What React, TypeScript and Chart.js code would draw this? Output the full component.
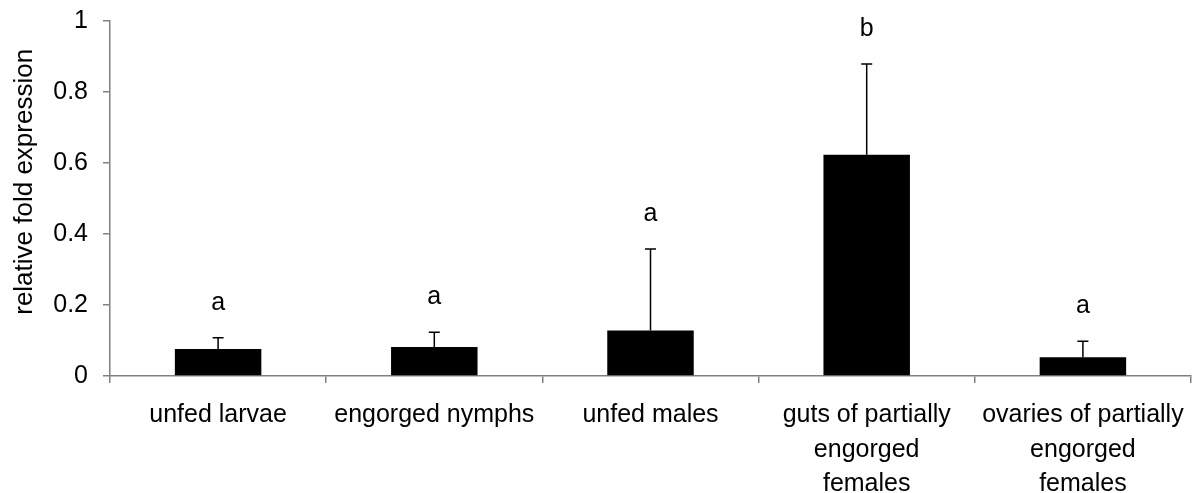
import React, { useEffect, useRef } from "react";
import { Chart, registerables } from "chart.js";

Chart.register(...registerables);

const categories: string[][] = [
  ["unfed larvae"],
  ["engorged nymphs"],
  ["unfed males"],
  ["guts of partially", "engorged", "females"],
  ["ovaries of partially", "engorged", "females"],
];
const means: number[] = [0.076, 0.082, 0.128, 0.623, 0.053];
const errors: number[] = [0.032, 0.041, 0.23, 0.256, 0.045];
const letters: string[] = ["a", "a", "a", "b", "a"];
const yTicks: number[] = [0, 0.2, 0.4, 0.6, 0.8, 1];
const yTitle = "relative fold expression";

const FONT = "'Liberation Sans', Arial, sans-serif";
const AXIS_GRAY = "#808080";

const errorBarPlugin = {
  id: "errorBars",
  afterDatasetsDraw(chart: any) {
    const meta = chart.getDatasetMeta(0);
    const y = chart.scales.y;
    const ctx = chart.ctx;
    ctx.save();
    ctx.strokeStyle = "#000";
    ctx.lineWidth = 1.5;
    ctx.fillStyle = "#000";
    ctx.font = `25px ${FONT}`;
    ctx.textAlign = "center";
    ctx.textBaseline = "alphabetic";
    meta.data.forEach((bar: any, i: number) => {
      const x = bar.x;
      const yTop = y.getPixelForValue(means[i]);
      const yErr = y.getPixelForValue(means[i] + errors[i]);
      ctx.beginPath();
      ctx.moveTo(x, yTop);
      ctx.lineTo(x, yErr);
      ctx.moveTo(x - 5.5, yErr);
      ctx.lineTo(x + 5.5, yErr);
      ctx.stroke();
      ctx.fillText(letters[i], x, yErr - 28);
    });
    ctx.restore();
  },
};

const yTitlePlugin = {
  id: "yTitle",
  afterDraw(chart: any) {
    const y = chart.scales.y;
    const ctx = chart.ctx;
    const cy = y.getPixelForValue(0.547);
    ctx.save();
    ctx.translate(25, cy);
    ctx.rotate(-Math.PI / 2);
    ctx.fillStyle = "#000";
    ctx.font = `26px ${FONT}`;
    ctx.textAlign = "center";
    ctx.textBaseline = "middle";
    ctx.fillText(yTitle, 0, 0);
    ctx.restore();
  },
};

export default function App() {
  const ref = useRef<HTMLCanvasElement | null>(null);
  useEffect(() => {
    if (!ref.current) return;
    const chart = new Chart(ref.current, {
      type: "bar",
      data: {
        labels: categories,
        datasets: [
          {
            data: means,
            backgroundColor: "#000",
            borderWidth: 0,
            barPercentage: 0.4,
            categoryPercentage: 1,
          },
        ],
      },
      options: {
        animation: false,
        responsive: true,
        maintainAspectRatio: false,
        layout: { padding: { top: 21, right: 7, bottom: 0, left: 0 } },
        plugins: {
          legend: { display: false },
          tooltip: { enabled: false },
        },
        scales: {
          x: {
            afterFit: (s: any) => {
              s.height = 117;
              s.paddingLeft = 0;
              s.paddingRight = 0;
            },
            grid: {
              offset: true,
              drawOnChartArea: false,
              drawTicks: true,
              tickLength: 7,
              color: AXIS_GRAY,
              lineWidth: 1.5,
            },
            border: { display: true, color: AXIS_GRAY, width: 1.5 },
            ticks: {
              color: "#000",
              font: { family: FONT, size: 25, lineHeight: 1.38 },
              padding: 15,
              maxRotation: 0,
              minRotation: 0,
              autoSkip: false,
            },
          },
          y: {
            min: 0,
            max: 1,
            afterFit: (s: any) => {
              s.width = 110;
              s.paddingTop = 0;
              s.paddingBottom = 0;
            },
            afterBuildTicks: (s: any) => {
              s.ticks = yTicks.map((v) => ({ value: v }));
            },
            grid: {
              drawOnChartArea: false,
              drawTicks: true,
              tickLength: 7,
              color: AXIS_GRAY,
              lineWidth: 1.5,
            },
            border: { display: true, color: AXIS_GRAY, width: 1.5 },
            ticks: {
              color: "#000",
              font: { family: FONT, size: 25 },
              padding: 15,
              callback: (v: any) => String(parseFloat(Number(v).toFixed(1))),
            },
          },
        },
      },
      plugins: [errorBarPlugin, yTitlePlugin],
    });
    return () => chart.destroy();
  }, []);
  return (
    <div style={{ position: "fixed", left: 0, top: 0, width: 1198, height: 493, background: "#fff" }}>
      <canvas ref={ref} />
    </div>
  );
}
